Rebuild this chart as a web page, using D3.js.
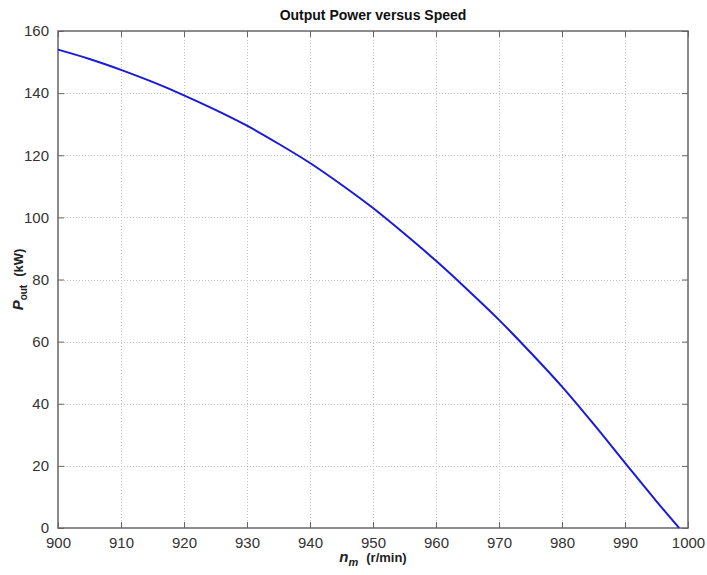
<!DOCTYPE html>
<html>
<head>
<meta charset="utf-8">
<script src="https://cdn.jsdelivr.net/npm/d3@7"></script>
<style>
  body { margin: 0; background: #fff; }
  text { font-family: "Liberation Sans", Arial, sans-serif; }
</style>
</head>
<body>
<div id="chart"></div>
<script>
// Data
const speeds = [900, 905, 910, 915, 920, 925, 930, 935, 940, 945, 950, 955, 960, 965, 970, 975, 980, 985, 990, 995, 998.6];
const power = [154, 151, 147.5, 143.6, 139.3, 134.6, 129.5, 123.7, 117.5, 110.5, 103, 94.7, 86, 76.7, 67, 56.5, 45.5, 33.5, 21, 8.6, 0];
const xTicks = [900, 910, 920, 930, 940, 950, 960, 970, 980, 990, 1000];
const yTicks = [0, 20, 40, 60, 80, 100, 120, 140, 160];

const width = 707, height = 575;
const margin = { top: 31, right: 19, bottom: 47, left: 58 };

const svg = d3.select("#chart").append("svg").attr("width", width).attr("height", height);

const x = d3.scaleLinear().domain([900, 1000]).range([margin.left, width - margin.right]);
const y = d3.scaleLinear().domain([0, 160]).range([height - margin.bottom, margin.top]);

const x0 = x.range()[0], x1 = x.range()[1];
const y0 = y.range()[0], y1 = y.range()[1];

// Grid lines (dotted)
const grid = svg.append("g").attr("stroke", "#c4c4c4").attr("stroke-width", 1).attr("stroke-dasharray", "1,2");
grid.selectAll(".gx").data(xTicks.slice(1, -1)).join("line")
  .attr("x1", (d) => Math.round(x(d)) + 0.5).attr("x2", (d) => Math.round(x(d)) + 0.5)
  .attr("y1", y1).attr("y2", y0);
grid.selectAll(".gy").data(yTicks.slice(1, -1)).join("line")
  .attr("y1", (d) => Math.round(y(d)) + 0.5).attr("y2", (d) => Math.round(y(d)) + 0.5)
  .attr("x1", x0).attr("x2", x1);

// Axes: inward ticks, on all four sides
const tickLen = 6;
const axisColor = "#666";
const fmt = d3.format("d");
const styleAxis = (g) => {
  g.select(".domain").remove();
  g.selectAll(".tick line").attr("stroke", axisColor);
  g.selectAll(".tick text").attr("fill", "#333").style("font-size", "15px");
};

svg.append("g")
  .attr("transform", `translate(0,${y0})`)
  .call(d3.axisBottom(x).tickValues(xTicks).tickFormat(fmt).tickSizeInner(-tickLen).tickSizeOuter(0).tickPadding(9))
  .call(styleAxis);

svg.append("g")
  .attr("transform", `translate(0,${y1})`)
  .call(d3.axisTop(x).tickValues(xTicks).tickSizeInner(-tickLen).tickSizeOuter(0).tickFormat(""))
  .call(styleAxis);

svg.append("g")
  .attr("transform", `translate(${x0},0)`)
  .call(d3.axisLeft(y).tickValues(yTicks).tickFormat(fmt).tickSizeInner(-tickLen).tickSizeOuter(0).tickPadding(9))
  .call(styleAxis);

svg.append("g")
  .attr("transform", `translate(${x1},0)`)
  .call(d3.axisRight(y).tickValues(yTicks).tickSizeInner(-tickLen).tickSizeOuter(0).tickFormat(""))
  .call(styleAxis);

// Plot box
svg.append("rect")
  .attr("x", x0).attr("y", y1).attr("width", x1 - x0).attr("height", y0 - y1)
  .attr("fill", "none").attr("stroke", axisColor).attr("stroke-width", 1.5);

// Curve
const line = d3.line().x((d, i) => x(speeds[i])).y((d) => y(d)).curve(d3.curveMonotoneX);
svg.append("path")
  .datum(power)
  .attr("fill", "none")
  .attr("stroke", "#1a1ad8")
  .attr("stroke-width", 2)
  .attr("d", line);

// Title
svg.append("text")
  .attr("x", (x0 + x1) / 2).attr("y", 20)
  .attr("text-anchor", "middle")
  .style("font-size", "14px").style("font-weight", "bold").attr("fill", "#111")
  .text("Output Power versus Speed");

// X label
const xl = svg.append("text")
  .attr("x", (x0 + x1) / 2).attr("y", 562)
  .attr("text-anchor", "middle")
  .style("font-size", "13px").style("font-weight", "bold").attr("fill", "#222");
xl.append("tspan").style("font-style", "italic").style("font-size", "15px").text("n");
xl.append("tspan").style("font-style", "italic").style("font-size", "11px").attr("dy", 4).text("m");
xl.append("tspan").attr("dy", -4).attr("dx", 8).text("(r/min)");

// Y label
const yl = svg.append("text")
  .attr("transform", `translate(23,${(y0 + y1) / 2}) rotate(-90)`)
  .attr("text-anchor", "middle")
  .style("font-size", "13px").style("font-weight", "bold").attr("fill", "#222");
yl.append("tspan").style("font-style", "italic").style("font-size", "15px").text("P");
yl.append("tspan").style("font-size", "10px").attr("dy", 4).text("out");
yl.append("tspan").attr("dy", -4).attr("dx", 8).text("(kW)");
</script>
</body>
</html>
